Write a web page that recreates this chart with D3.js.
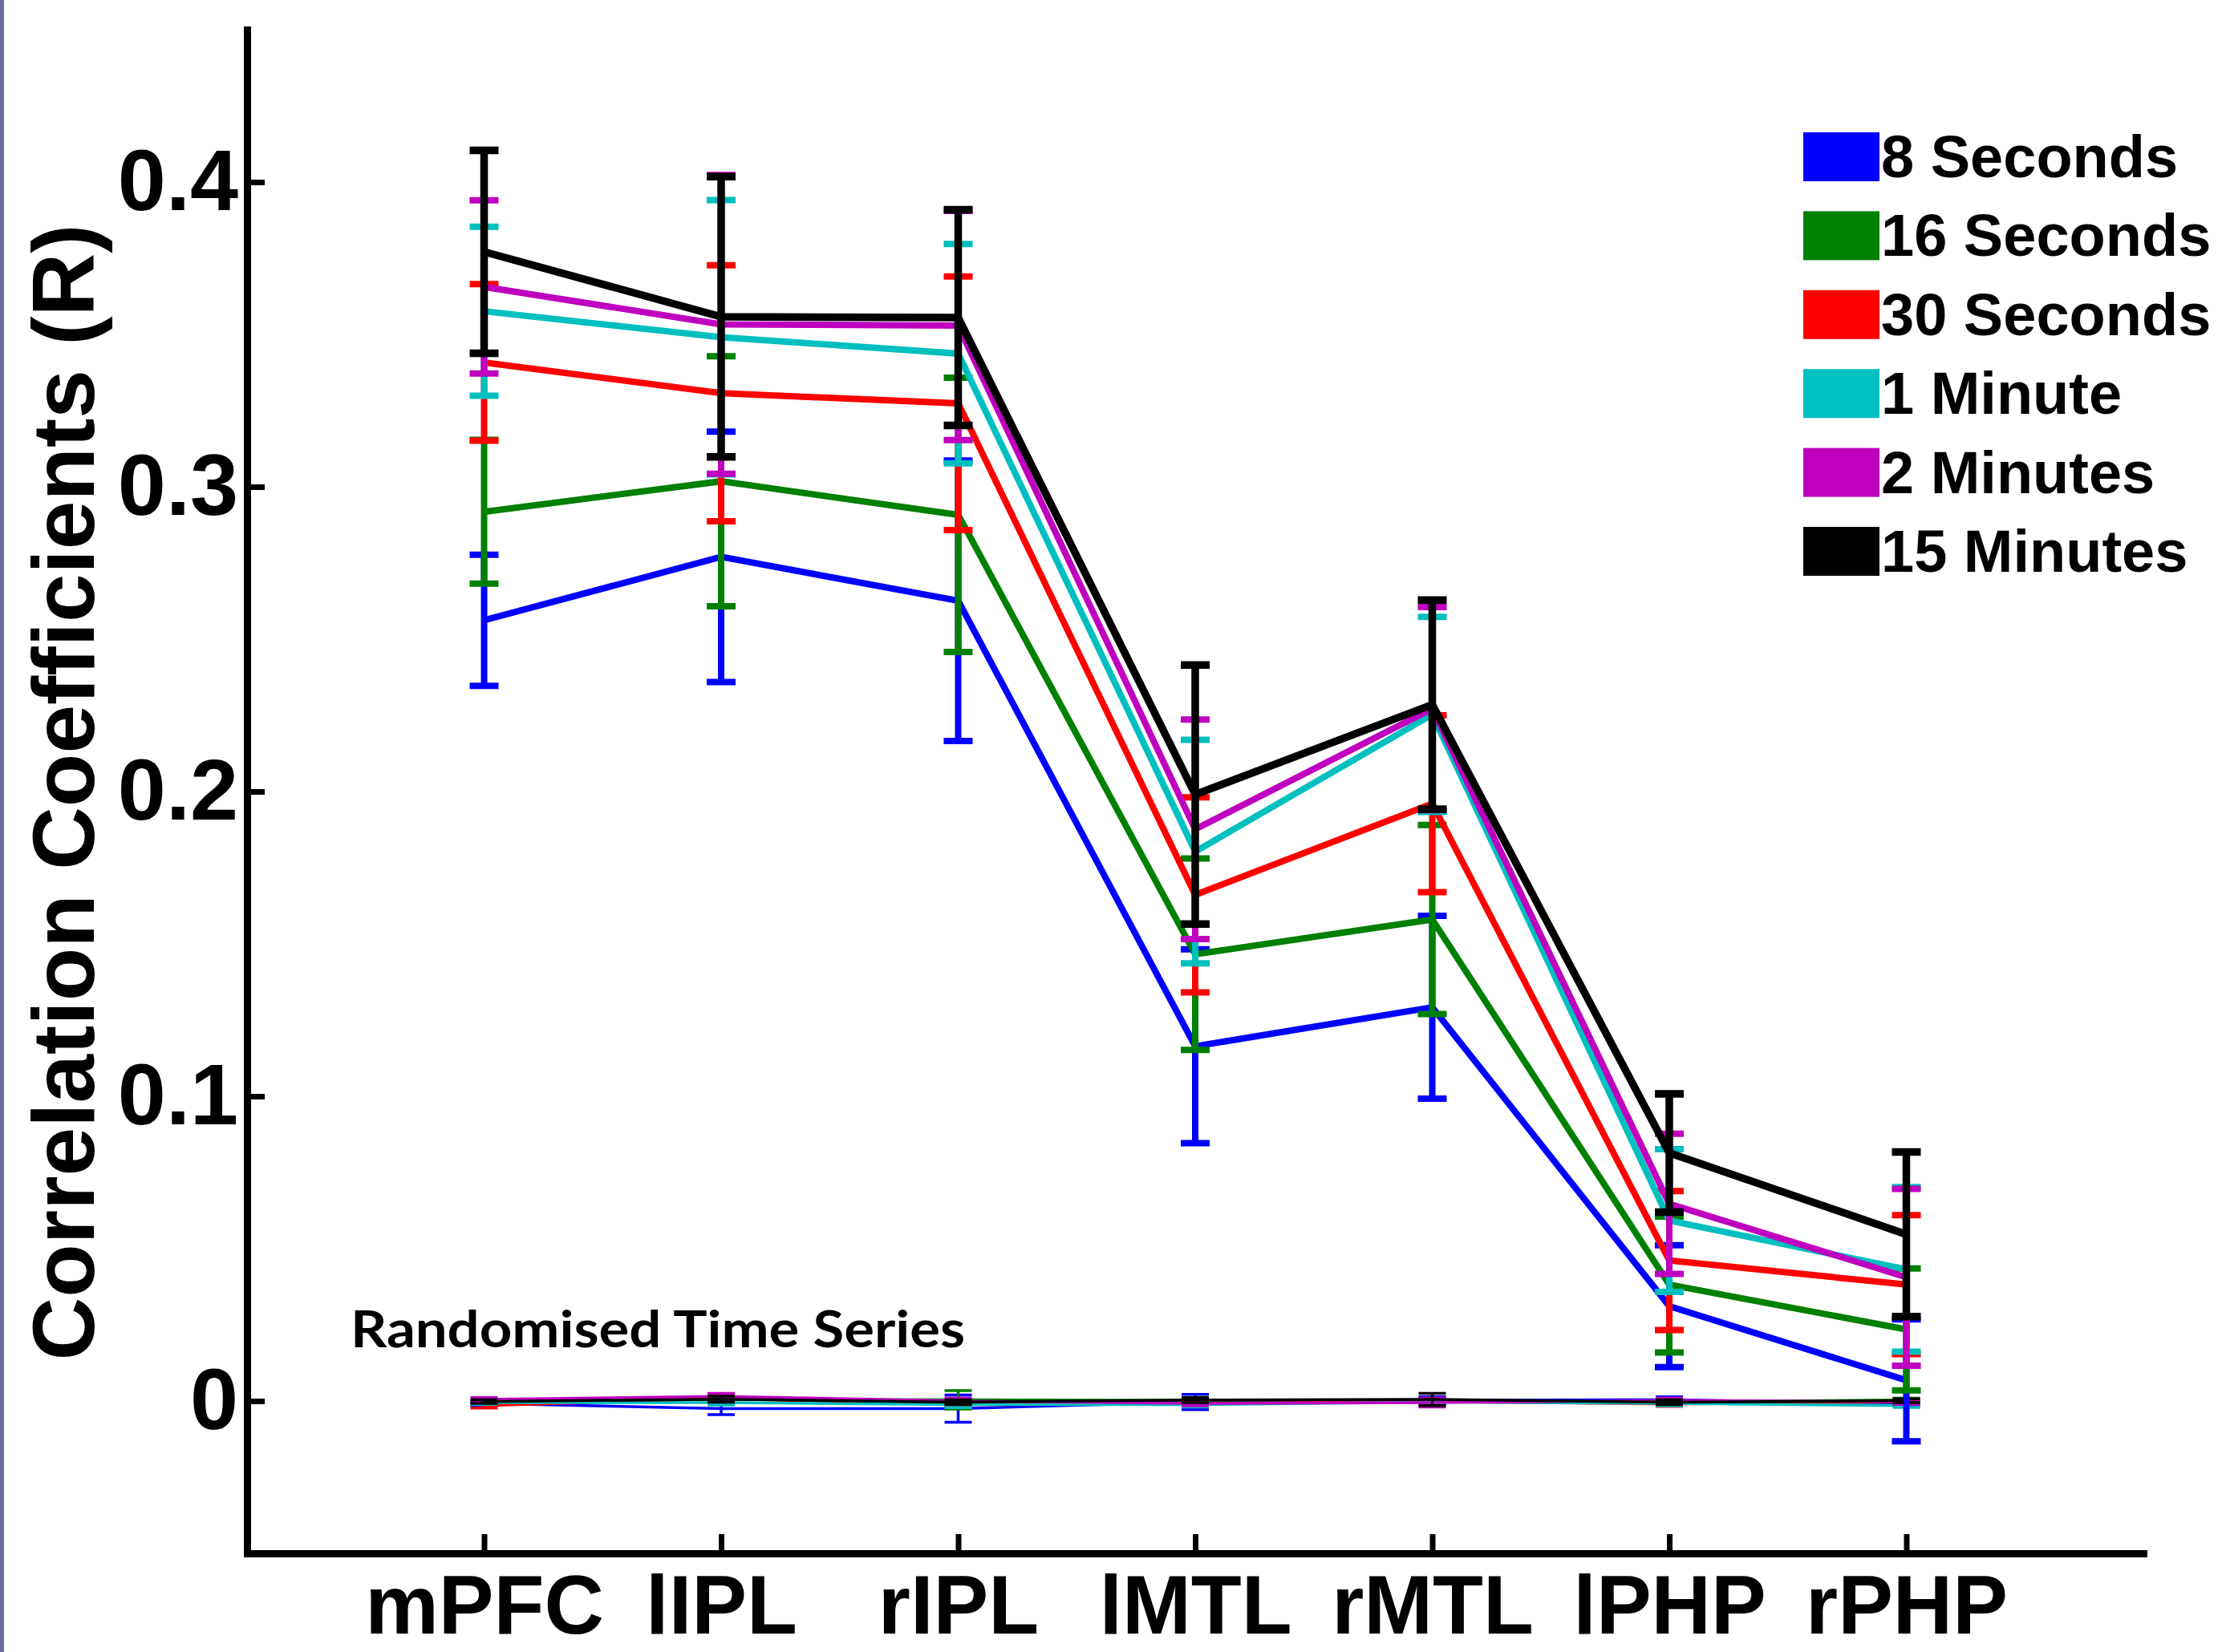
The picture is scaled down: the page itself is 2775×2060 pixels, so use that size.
<!DOCTYPE html>
<html>
<head>
<meta charset="utf-8">
<script src="https://cdn.jsdelivr.net/npm/d3@7"></script>
<style>
    body { margin: 0; background: #fff; }
    .chart text { font-family: "Liberation Sans", Arial, sans-serif; font-weight: bold; fill: #000; }
</style>
</head>
<body>
<div class="chart" id="chart"></div>
<script>
// regions on the x axis
const regions = ['mPFC', 'lIPL', 'rIPL', 'lMTL', 'rMTL', 'lPHP', 'rPHP'];
const seriesNames = ['8 Seconds', '16 Seconds', '30 Seconds', '1 Minute', '2 Minutes', '15 Minutes'];
const seriesColors = ['#0000ff', '#008000', '#ff0000', '#00bfbf', '#bf00bf', '#000000'];
const yTicks = [0, 0.1, 0.2, 0.3, 0.4];

// mean correlation and error per window length
const mean8s = [0.2562, 0.2770, 0.2626, 0.1164, 0.1292, 0.0311, 0.0068];
const err8s = [0.0215, 0.0411, 0.0460, 0.0318, 0.0300, 0.0200, 0.0200];
const mean16s = [0.2918, 0.3018, 0.2908, 0.1466, 0.1580, 0.0382, 0.0235];
const err16s = [0.0236, 0.0410, 0.0450, 0.0314, 0.0310, 0.0223, 0.0200];
const mean30s = [0.3408, 0.3307, 0.3274, 0.1661, 0.1960, 0.0461, 0.0382];
const err30s = [0.0257, 0.0420, 0.0416, 0.0320, 0.0290, 0.0228, 0.0228];
const mean1m = [0.3576, 0.3491, 0.3437, 0.1803, 0.2253, 0.0592, 0.0432];
const err1m = [0.0277, 0.0450, 0.0360, 0.0367, 0.0320, 0.0234, 0.0270];
const mean2m = [0.3656, 0.3533, 0.3529, 0.1876, 0.2272, 0.0647, 0.0406];
const err2m = [0.0284, 0.0490, 0.0376, 0.0360, 0.0333, 0.0230, 0.0290];
const mean15m = [0.3771, 0.3558, 0.3555, 0.1990, 0.2285, 0.0814, 0.0547];
const err15m = [0.0333, 0.0460, 0.0354, 0.0425, 0.0343, 0.0194, 0.0270];

// randomised time series (all near zero)
const rand8s = [-0.0008, -0.0025, -0.0025, -0.0003, 0.0002, 0.0004, -0.0008];
const randErr8s = [0.0008, 0.0020, 0.0045, 0.0025, 0.0012, 0.0010, 0.0008];
const rand16s = [-0.0003, 0.0005, 0.0004, 0.0002, 0.0001, -0.0003, 0.0003];
const randErr16s = [0.0006, 0.0008, 0.0030, 0.0010, 0.0008, 0.0008, 0.0006];
const rand30s = [-0.0015, 0.0008, -0.0012, -0.0008, -0.0002, -0.0010, -0.0003];
const randErr30s = [0.0008, 0.0010, 0.0010, 0.0010, 0.0008, 0.0008, 0.0008];
const rand1m = [-0.0005, -0.0005, -0.0012, -0.0012, -0.0003, -0.0008, -0.0015];
const randErr1m = [0.0006, 0.0008, 0.0010, 0.0008, 0.0008, 0.0008, 0.0006];
const rand2m = [0.0005, 0.0015, 0.0000, -0.0008, -0.0005, 0.0002, -0.0003];
const randErr2m = [0.0006, 0.0010, 0.0010, 0.0008, 0.0015, 0.0008, 0.0008];
const rand15m = [-0.0002, 0.0006, -0.0004, 0.0003, 0.0005, -0.0004, 0.0001];
const randErr15m = [0.0006, 0.0010, 0.0008, 0.0008, 0.0020, 0.0008, 0.0006];

const means = [mean8s, mean16s, mean30s, mean1m, mean2m, mean15m];
const errs = [err8s, err16s, err30s, err1m, err2m, err15m];
const randMeans = [rand8s, rand16s, rand30s, rand1m, rand2m, rand15m];
const randErrs = [randErr8s, randErr16s, randErr30s, randErr1m, randErr2m, randErr15m];

const width = 2775, height = 2060;
const margin = { top: 37, right: 103, bottom: 123, left: 308 };

const svg = d3.select('#chart').append('svg')
    .attr('width', width)
    .attr('height', height);

svg.append('rect').attr('width', width).attr('height', height).attr('fill', '#fff');
// thin frame strip on the left edge
svg.append('rect').attr('x', 0).attr('y', 0).attr('width', 5).attr('height', height).attr('fill', '#6e6ea0');

// matlab style: categories sit at 1..7 on a 0..8 axis
const x = d3.scaleLinear().domain([0, 8]).range([margin.left, width - margin.right]);
const y = d3.scaleLinear().domain([-0.05, 0.45]).range([height - margin.bottom, margin.top]);

const yAxis = d3.axisLeft(y).tickValues(yTicks).tickSize(-22).tickSizeOuter(0).tickPadding(11)
    .tickFormat(d => d === 0 ? '0' : d3.format('.1f')(d));
const xAxis = d3.axisBottom(x).tickValues(d3.range(1, 8)).tickSize(-24).tickSizeOuter(0).tickPadding(27)
    .tickFormat(d => regions[d - 1]);

const yAxisG = svg.append('g').attr('transform', `translate(${margin.left},0)`).call(yAxis);
const xAxisG = svg.append('g').attr('transform', `translate(0,${height - margin.bottom})`).call(xAxis);

[yAxisG, xAxisG].forEach(g => {
    g.attr('font-family', null).attr('font-size', null);
    g.select('.domain').attr('stroke', '#000').attr('stroke-width', 9).attr('stroke-linecap', 'square');
    g.selectAll('.tick line').attr('stroke', '#000').attr('stroke-width', 7);
});
yAxisG.selectAll('.tick text').style('font-size', '108px');
xAxisG.selectAll('.tick text').style('font-size', '103px');

svg.append('text')
    .attr('transform', 'translate(117,988) rotate(-90)')
    .attr('text-anchor', 'middle')
    .style('font-size', '109px')
    .text('Correlation Coefficients (R)');

const line = d3.line().x((d, i) => x(i + 1)).y(d => y(d));

function drawErrorSeries(g, vals, errors, color, lw, capW) {
    const pts = vals.map((v, i) => ({ i: i, v: v, e: errors[i] }));
    g.selectAll('line.bar').data(pts).join('line')
        .attr('class', 'bar')
        .attr('x1', d => x(d.i + 1)).attr('x2', d => x(d.i + 1))
        .attr('y1', d => y(d.v - d.e)).attr('y2', d => y(d.v + d.e))
        .attr('stroke', color).attr('stroke-width', lw);
    const caps = pts.flatMap(d => [d.v - d.e, d.v + d.e].map(c => ({ i: d.i, c: c })));
    g.selectAll('line.cap').data(caps).join('line')
        .attr('class', 'cap')
        .attr('x1', d => x(d.i + 1) - capW / 2).attr('x2', d => x(d.i + 1) + capW / 2)
        .attr('y1', d => y(d.c)).attr('y2', d => y(d.c))
        .attr('stroke', color).attr('stroke-width', lw);
    g.append('path').datum(vals)
        .attr('d', line)
        .attr('fill', 'none')
        .attr('stroke', color)
        .attr('stroke-width', lw)
        .attr('stroke-linejoin', 'miter');
}

// randomised series first, thin lines
const randArea = svg.append('g').attr('id', 'random');
randMeans.forEach((vals, k) => {
    drawErrorSeries(randArea.append('g'), vals, randErrs[k], seriesColors[k], 3.5, 34);
});

svg.append('text')
    .attr('x', 437).attr('y', 1680)
    .attr('textLength', 766).attr('lengthAdjust', 'spacingAndGlyphs')
    .style('font-family', 'Lato, "Open Sans", sans-serif')
    .style('font-size', '64px')
    .style('font-weight', 'bold')
    .text('Randomised Time Series');

const chartArea = svg.append('g').attr('id', 'series');
means.forEach((vals, k) => {
    drawErrorSeries(chartArea.append('g'), vals, errs[k], seriesColors[k], k === 5 ? 9.5 : 8, 36);
});

// legend
const legend = svg.append('g').attr('transform', 'translate(2248,195)');
const rows = legend.selectAll('g').data(seriesNames).join('g')
    .attr('transform', (d, i) => `translate(0,${i * 98.4})`);
rows.append('rect')
    .attr('x', 0).attr('y', -30).attr('width', 95).attr('height', 61)
    .attr('fill', (d, i) => seriesColors[i]);
rows.append('text')
    .attr('x', 97).attr('y', 26)
    .style('font-size', '74px')
    .text(d => d);
</script>
</body>
</html>
